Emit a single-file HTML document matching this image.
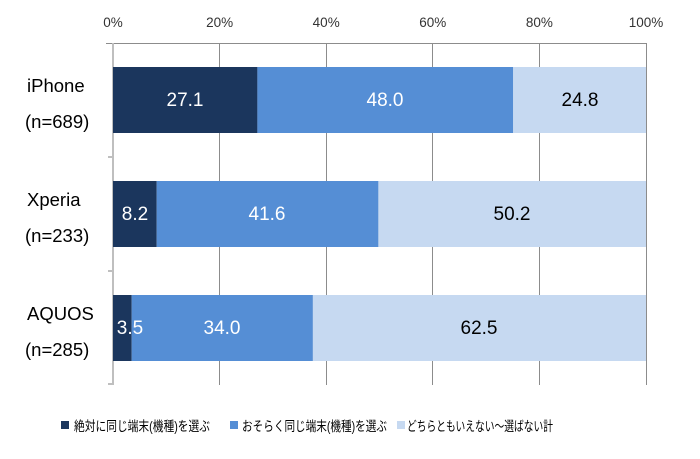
<!DOCTYPE html>
<html><head><meta charset="utf-8"><style>
body{margin:0;background:#fff;}
svg text{font-family:"Liberation Sans","Noto Sans CJK JP",sans-serif;}
</style></head><body>
<svg width="700" height="454" xmlns="http://www.w3.org/2000/svg">
<g stroke="#8c8c8c" stroke-width="1">
<line x1="106" y1="43.5" x2="646" y2="43.5"/>
<line x1="219.5" y1="43" x2="219.5" y2="385"/>
<line x1="326.5" y1="43" x2="326.5" y2="385"/>
<line x1="432.5" y1="43" x2="432.5" y2="385"/>
<line x1="539.5" y1="43" x2="539.5" y2="385"/>
<line x1="646.5" y1="43" x2="646.5" y2="385"/>
</g>
<g stroke="#bfbfbf" stroke-width="2">
<line x1="113" y1="43" x2="113" y2="385"/>
<line x1="108" y1="157" x2="113" y2="157"/>
<line x1="108" y1="271" x2="113" y2="271"/>
<line x1="108" y1="384" x2="113" y2="384"/>
</g>
<g font-size="13.5" fill="#333" text-anchor="middle">
<text x="113" y="27">0%</text><text x="219.6" y="27">20%</text><text x="326.2" y="27">40%</text>
<text x="432.8" y="27">60%</text><text x="539.4" y="27">80%</text><text x="646" y="27">100%</text>
</g>
<rect x="113" y="67" width="144.4" height="66" fill="#1b365d"/>
<rect x="257.4" y="67" width="255.8" height="66" fill="#558ed5"/>
<rect x="513.2" y="67" width="132.8" height="66" fill="#c6d9f1"/>
<rect x="113" y="181" width="43.7" height="66" fill="#1b365d"/>
<rect x="156.7" y="181" width="221.7" height="66" fill="#558ed5"/>
<rect x="378.4" y="181" width="267.6" height="66" fill="#c6d9f1"/>
<rect x="113" y="295" width="18.7" height="66" fill="#1b365d"/>
<rect x="131.7" y="295" width="181.2" height="66" fill="#558ed5"/>
<rect x="312.9" y="295" width="333.1" height="66" fill="#c6d9f1"/>
<g font-size="19" text-anchor="middle">
<text x="185" y="106" fill="#fff">27.1</text><text x="385" y="106" fill="#fff">48.0</text><text x="580" y="106" fill="#000">24.8</text>
<text x="135" y="220" fill="#fff">8.2</text><text x="267" y="220" fill="#fff">41.6</text><text x="512" y="220" fill="#000">50.2</text>
<text x="130" y="334" fill="#fff">3.5</text><text x="222" y="334" fill="#fff">34.0</text><text x="479" y="334" fill="#000">62.5</text>
</g>
<g font-size="18.5" fill="#000">
<text x="27" y="92">iPhone</text><text x="25" y="128">(n=689)</text>
<text x="27" y="206">Xperia</text><text x="25" y="242">(n=233)</text>
<text x="27" y="320">AQUOS</text><text x="25" y="356">(n=285)</text>
</g>
<rect x="61" y="421" width="8" height="8" fill="#1b365d"/>
<rect x="230" y="421" width="8" height="8" fill="#558ed5"/>
<rect x="397" y="421" width="8" height="8" fill="#c6d9f1"/>
<g font-size="13.5" fill="#000">
<text x="74" y="431" textLength="136" lengthAdjust="spacingAndGlyphs">絶対に同じ端末(機種)を選ぶ</text>
<text x="242" y="431" textLength="145" lengthAdjust="spacingAndGlyphs">おそらく同じ端末(機種)を選ぶ</text>
<text x="407" y="431" textLength="146" lengthAdjust="spacingAndGlyphs">どちらともいえない～選ばない計</text>
</g>
</svg>
</body></html>
